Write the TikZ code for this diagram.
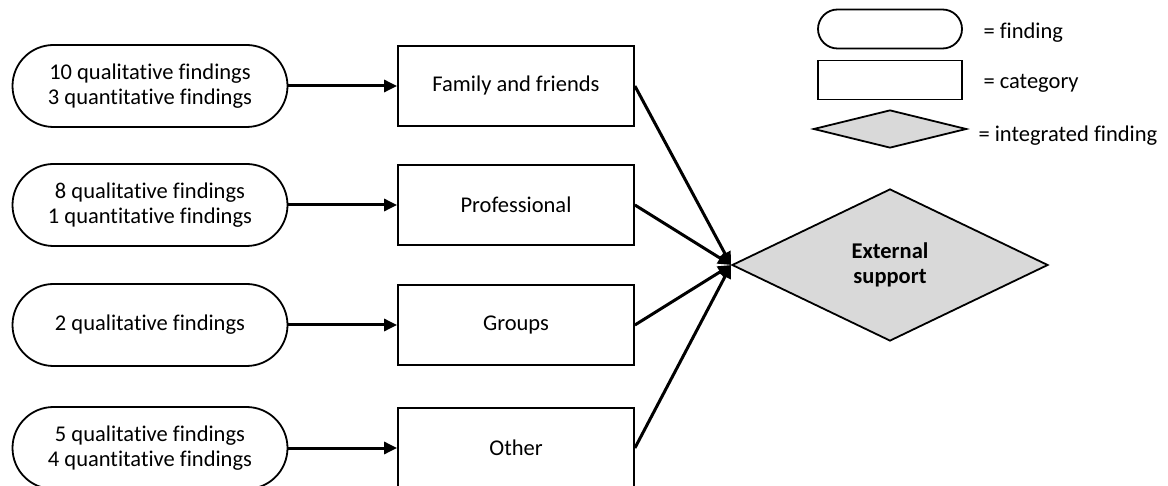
\documentclass[tikz,border=0pt]{standalone}
\usepackage{fontspec}
\setmainfont{Carlito}[Ligatures=NoCommon]
\usetikzlibrary{shapes.geometric,shapes.misc,arrows.meta}

\tikzset{
	finding/.style={draw, line width=1.8pt, rounded rectangle, minimum width=275pt, minimum height=82pt, align=center, inner sep=0pt},
	category/.style={draw, line width=1.8pt, rectangle, minimum width=236pt, minimum height=80pt, inner sep=0pt},
	integrated/.style={draw, line width=1.8pt, diamond, aspect=2, fill=black!15, inner sep=0pt},
	link/.style={line width=3pt, -{Triangle[length=13pt,width=12pt]}}
}

\begin{document}
\begin{tikzpicture}[x=1pt, y=-1pt, font=\fontsize{22.5}{25.5}\selectfont]
	\useasboundingbox (0,0) rectangle (1168,486);
	
	% findings on the left
	\node[finding] (find1) at (150,86) {10 qualitative findings\\3 quantitative findings};
	\node[finding] (find2) at (150,205) {8 qualitative findings\\1 quantitative findings};
	\node[finding] (find3) at (150,325) {2 qualitative findings};
	\node[finding] (find4) at (150,448) {5 qualitative findings\\4 quantitative findings};
	
	% categories
	\node[category] (cat1) at (516,86) {Family and friends};
	\node[category] (cat2) at (516,205) {Professional};
	\node[category] (cat3) at (516,325) {Groups};
	\node[category] (cat4) at (516,448) {Other};
	
	% integrated finding
	\node[integrated, minimum width=316pt, minimum height=152pt, align=center] (support) at (890,265) {\textbf{External}\\\textbf{support}};
	
	\foreach \i in {1,...,4} {
		\draw[link] (find\i.east) -- (cat\i.west);
		\draw[link] (cat\i.east) -- (support.west);
	}
	
	% legend
	\node[finding, minimum width=144pt, minimum height=39pt] (keyfind) at (890,29) {};
	\node[category, minimum width=144pt, minimum height=39pt] (keycat) at (890,80) {};
	\node[integrated, minimum width=153pt, minimum height=38pt] (keyint) at (890,129) {};
	\node[anchor=west] (keyfindtext) at (980,33) {= finding};
	\node[anchor=west] (keycattext) at (980,83) {= category};
	\node[anchor=west] (keyinttext) at (975,136) {= integrated finding};
	
\end{tikzpicture}
\end{document}
